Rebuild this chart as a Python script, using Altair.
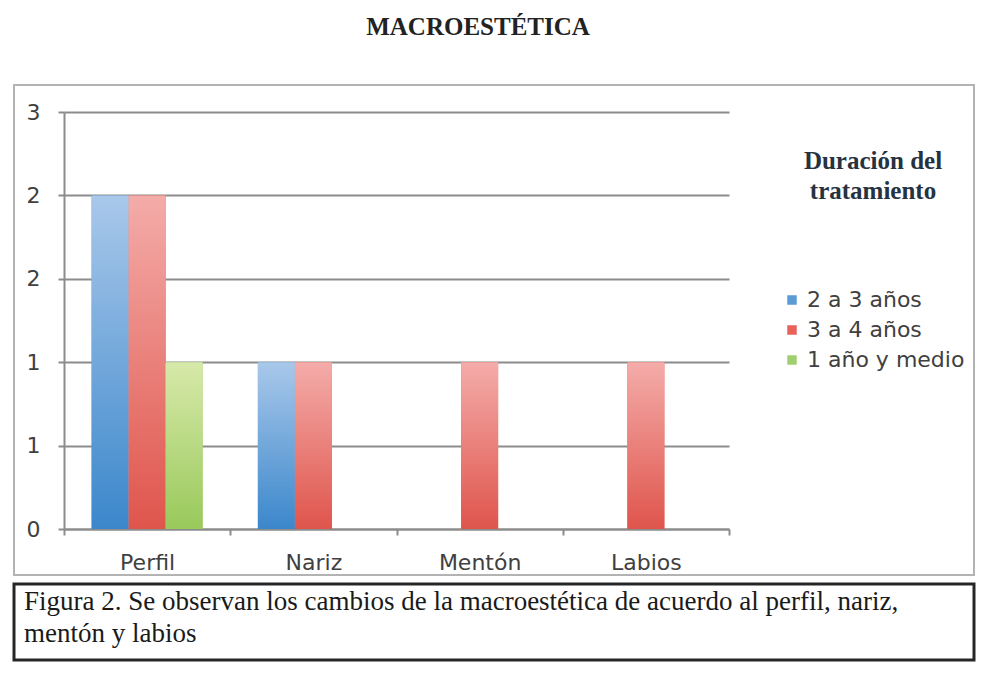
import altair as alt
import pandas as pd

# ---- data ----
categorias = ["Perfil", "Nariz", "Mentón", "Labios"]
series = ["2 a 3 años", "3 a 4 años", "1 año y medio"]
valores_2a3 = [2, 1, 0, 0]
valores_3a4 = [2, 1, 1, 1]
valores_1ymedio = [1, 0, 0, 0]
y_ticks = [0, 0.5, 1, 1.5, 2, 2.5]
titulo = "MACROESTÉTICA"
leyenda_titulo = ["Duración del", "tratamiento"]
pie = ["Figura 2. Se observan los cambios de la macroestética de acuerdo al perfil, nariz,\nmentón y labios"]

# ---- styles ----
colores = ["#5b9bd5", "#e8625b", "#a2cf6e"]
grad_top = ["#a9c8ea", "#f4aca9", "#d7e9aa"]
grad_bot = ["#3b87cb", "#df554c", "#99c95b"]
GRID = "#8c8c8c"
LABEL = "#404040"
SANS = "DejaVu Sans"
SERIF = "Liberation Serif"

rows = []
for s, vals in zip(series, [valores_2a3, valores_3a4, valores_1ymedio]):
    for c, v in zip(categorias, vals):
        rows.append({"categoria": c, "serie": s, "valor": v})
df = pd.DataFrame(rows)

W, H = 960, 490

x_enc = alt.X(
    "categoria:N", sort=categorias,
    scale=alt.Scale(domain=categorias, range=[50, 715], paddingInner=0, paddingOuter=0),
    axis=alt.Axis(orient="bottom", offset=-46, title=None, labelAngle=0,
                  labelFont=SANS, labelFontSize=22, labelColor=LABEL, labelPadding=17,
                  domainColor=GRID, domainWidth=2, tickColor=GRID, tickWidth=2,
                  tickSize=6, tickBand="extent", grid=False),
)
y_enc = alt.Y(
    "valor:Q",
    scale=alt.Scale(domain=[0, 2.5], range=[444, 27], nice=False, zero=True),
    axis=alt.Axis(values=y_ticks, labelExpr="'' + round(datum.value)", offset=-50,
                  title=None, grid=True, gridColor=GRID, gridWidth=2,
                  domainColor=GRID, domainWidth=2, tickColor=GRID, tickWidth=2,
                  tickSize=6, labelPadding=18, labelFont=SANS, labelFontSize=22,
                  labelColor=LABEL),
)
xo_enc = alt.XOffset("serie:N", sort=series,
                     scale=alt.Scale(domain=series, paddingInner=0, paddingOuter=0.746))

base = alt.Chart(df).mark_bar().encode(
    x=x_enc, y=y_enc, xOffset=xo_enc,
    color=alt.Color("serie:N", sort=series,
                    scale=alt.Scale(domain=series, range=colores),
                    legend=alt.Legend(title=leyenda_titulo, orient="none", legendX=767, legendY=64,
                                      titleFont=SERIF, titleFontSize=25, titleFontWeight="bold",
                                      titleColor="#26323f", titleAnchor="middle", titleAlign="center",
                                      titleLineHeight=30, titlePadding=85,
                                      labelFont=SANS, labelFontSize=22, labelColor=LABEL,
                                      symbolType="square", symbolSize=90, symbolStrokeWidth=0,
                                      labelOffset=4, rowPadding=8, padding=0)),
)

overlays = []
for s, top, bot in zip(series, grad_top, grad_bot):
    grad = alt.LinearGradient(gradient="linear",
                              stops=[alt.GradientStop(color=top, offset=0),
                                     alt.GradientStop(color=bot, offset=1)],
                              x1=0, x2=0, y1=0, y2=1)
    overlays.append(
        alt.Chart(df).transform_filter(alt.datum.serie == s)
        .mark_bar(fill=grad).encode(x=x_enc, y=y_enc, xOffset=xo_enc)
    )

top_chart = alt.layer(base, *overlays).properties(
    width=W, height=H,
    view=alt.ViewBackground(stroke="#b3b3b3", strokeWidth=2),
)

caption = alt.Chart(pd.DataFrame({"t": pie})).mark_text(
    align="left", baseline="alphabetic", font=SERIF, fontSize=27,
    lineBreak="\n", lineHeight=32, color="#1a1a1a",
).encode(text="t:N", x=alt.value(10), y=alt.value(26)).properties(
    width=W, height=76,
    view=alt.ViewBackground(stroke="#262626", strokeWidth=3),
)

chart = alt.vconcat(top_chart, caption, spacing=6).properties(
    title=alt.TitleParams(titulo, font=SERIF, fontSize=25, fontWeight="bold",
                          color="#222222", anchor="middle", offset=44, dx=-16),
    padding={"left": 4, "top": 7, "right": 0, "bottom": 0},
).configure(background="white")

chart.save("out.html", embed_options={"renderer": "svg", "actions": False})
